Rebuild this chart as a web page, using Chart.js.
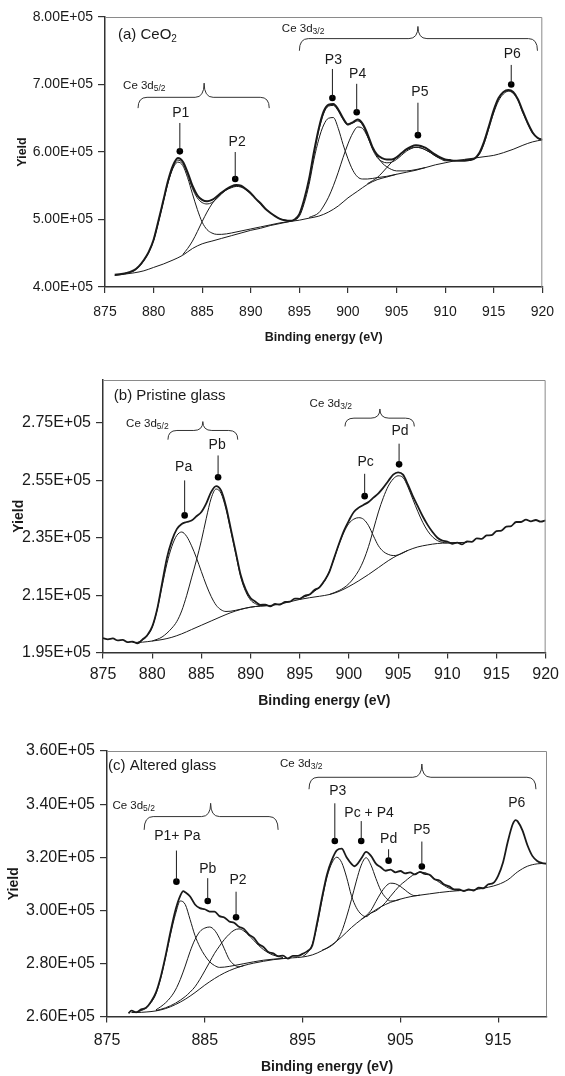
<!DOCTYPE html>
<html>
<head>
<meta charset="utf-8">
<script src="https://cdn.jsdelivr.net/npm/chart.js@4.4.0/dist/chart.umd.min.js"></script>
<style>
  body { margin: 0; background: #fff; }
  #wrap { position: relative; width: 565px; height: 1076px; }
  canvas { position: absolute; left: 0; }
</style>
</head>
<body>
<div id="wrap">
  <canvas id="chartA" width="565" height="345" style="top:0px"></canvas>
  <canvas id="chartB" width="565" height="365" style="top:345px"></canvas>
  <canvas id="chartC" width="565" height="366" style="top:710px"></canvas>
</div>
<script>
// all yields are in units of 1E+05 counts, energies in eV

// ---------- (a) CeO2 ----------
const xTicksA = [875, 880, 885, 890, 895, 900, 905, 910, 915, 920]
const yTicksA = [4, 5, 6, 7, 8]
const specA = [[876,4.18],[876.5,4.19],[877,4.20],[877.5,4.22],[878,4.25],[878.5,4.31],[879,4.40],[879.5,4.52],[880,4.70],[880.5,4.98],
  [881,5.28],[881.5,5.58],[882,5.80],[882.5,5.91],[883,5.86],[883.5,5.70],[884,5.50],[884.5,5.36],[885,5.29],[885.5,5.27],
  [886,5.29],[886.5,5.34],[887,5.40],[887.5,5.45],[888,5.49],[888.5,5.51],[889,5.50],[889.5,5.45],[890,5.39],[890.5,5.31],
  [891,5.24],[891.5,5.16],[892,5.10],[892.5,5.05],[893,5.01],[893.5,4.99],[894,4.98],[894.5,5.00],[895,5.08],[895.5,5.30],
  [896,5.60],[896.5,6.00],[897,6.35],[897.5,6.60],[898,6.70],[898.5,6.71],[899,6.63],[899.5,6.50],[900,6.41],[900.5,6.44],
  [901,6.48],[901.5,6.42],[902,6.27],[902.5,6.08],[903,5.96],[903.5,5.91],[904,5.89],[904.5,5.89],[905,5.92],[905.5,5.98],
  [906,6.04],[906.5,6.08],[907,6.10],[907.5,6.09],[908,6.06],[908.5,6.01],[909,5.96],[909.5,5.92],[910,5.89],[910.5,5.88],
  [911,5.87],[911.5,5.87],[912,5.87],[912.5,5.88],[913,5.90],[913.5,5.98],[914,6.15],[914.5,6.38],[915,6.62],[915.5,6.80],
  [916,6.89],[916.5,6.92],[917,6.89],[917.5,6.78],[918,6.60],[918.5,6.43],[919,6.29],[919.5,6.21],[920,6.18]]
const envA = [[880,4.69],[880.5,4.97],[881,5.27],[881.5,5.56],[882,5.78],[882.5,5.88],[883,5.83],[883.5,5.67],[884,5.46],[884.5,5.32],
  [885,5.25],[885.5,5.23],[886,5.25],[886.5,5.31],[887,5.38],[887.5,5.44],[888,5.48],[888.5,5.50],[889,5.49],[889.5,5.45],[890,5.39],
  [893,null],
  [896,5.58],[896.5,5.97],[897,6.32],[897.5,6.57],[898,6.68],[898.5,6.69],[899,6.61],[899.5,6.48],[900,6.40],[900.5,6.43],
  [901,6.46],[901.5,6.40],[902,6.24],[902.5,6.05],[903,5.92],[903.5,5.86],[904,5.84],[904.5,5.85],[905,5.89],[905.5,5.95],
  [906,6.01],[906.5,6.05],[907,6.07],[907.5,6.06],[908,6.03],[908.5,5.99],[909,5.94],[909.5,5.91],[910,5.88]]
const bgA = [[876,4.17],[877,4.19],[878,4.21],[879,4.24],[880,4.29],[881,4.34],[882,4.40],[883,4.47],[884,4.57],[885,4.64],
  [886,4.68],[887,4.72],[888,4.76],[889,4.80],[890,4.84],[891,4.87],[892,4.91],[893,4.94],[894,4.97],[895,4.99],
  [896,5.02],[897,5.05],[898,5.11],[899,5.20],[900,5.32],[901,5.42],[902,5.52],[903,5.59],[904,5.63],[905,5.67],
  [906,5.70],[907,5.73],[908,5.77],[909,5.81],[910,5.84],[911,5.87],[912,5.89],[913,5.91],[914,5.93],[915,5.95],
  [916,5.99],[917,6.04],[918,6.10],[919,6.15],[920,6.18]]
const p1A = [[877,4.20],[878,4.24],[878.5,4.30],[879,4.39],[879.5,4.51],[880,4.69],[880.5,4.96],[881,5.26],[881.5,5.55],[882,5.76],
  [882.5,5.85],[883,5.80],[883.5,5.62],[884,5.38],[884.5,5.15],[885,4.96],[885.5,4.85],[886,4.80],[886.5,4.78],[887,4.78],
  [888,4.80],[889,4.83],[890,4.86],[891,4.89],[892,4.92],[893,4.95],[894,4.97]]
const p2A = [[883,4.48],[883.5,4.57],[884,4.68],[884.5,4.82],[885,4.97],[885.5,5.11],[886,5.23],[886.5,5.32],[887,5.39],[887.5,5.44],
  [888,5.47],[888.5,5.49],[889,5.48],[889.5,5.44],[890,5.38],[890.5,5.31],[891,5.23],[891.5,5.16],[892,5.10],[892.5,5.05],
  [893,5.01],[893.5,4.99],[894,4.98]]
const p3A = [[894,4.97],[895,5.05],[895.5,5.24],[896,5.52],[896.5,5.89],[897,6.19],[897.5,6.40],[898,6.50],[898.5,6.51],[899,6.35],
  [899.5,6.11],[900,5.90],[900.5,5.73],[901,5.63],[901.5,5.60],[902,5.60],[903,5.62],[904,5.64],[905,5.67]]
const p4A = [[896,5.03],[897,5.10],[897.5,5.20],[898,5.33],[898.5,5.50],[899,5.70],[899.5,5.92],[900,6.12],[900.5,6.28],[901,6.37],
  [901.5,6.35],[902,6.23],[902.5,6.07],[903,5.94],[903.5,5.84],[904,5.78],[904.5,5.74],[905,5.72],[906,5.72],[907,5.74],[908,5.77]]
const p5A = [[902,5.53],[903,5.62],[903.5,5.69],[904,5.77],[904.5,5.85],[905,5.92],[905.5,5.98],[906,6.03],[906.5,6.06],[907,6.07],
  [907.5,6.06],[908,6.03],[908.5,5.99],[909,5.94],[909.5,5.90],[910,5.87],[911,5.87]]
const p6A = [[912,5.89],[913,5.90],[913.5,5.96],[914,6.12],[914.5,6.35],[915,6.58],[915.5,6.76],[916,6.86],[916.5,6.90],[917,6.87],
  [917.5,6.76],[918,6.58],[918.5,6.42],[919,6.28],[919.5,6.21],[920,6.18]]
const peakNamesA = ['P1', 'P2', 'P3', 'P4', 'P5', 'P6']
const peakEnergyA = [882.7, 888.4, 898.4, 900.9, 907.2, 916.8]
const peakDotA = [6.01, 5.60, 6.80, 6.59, 6.25, 7.00]
const peakTopA = [6.43, 6.00, 7.23, 7.01, 6.73, 7.29]
const labelEnergyA = [882.8, 888.6, 898.5, 901.0, 907.4, 916.9]
const labelYieldA = [6.58, 6.15, 7.36, 7.16, 6.88, 7.45]

// ---------- (b) pristine glass ----------
const xTicksB = [875, 880, 885, 890, 895, 900, 905, 910, 915, 920]
const yTicksB = [1.95, 2.15, 2.35, 2.55, 2.75]
const specB = [[875,2.000],[875.5,1.996],[876,1.999],[876.5,1.992],[877,1.994],[877.5,1.986],[878,1.988],[878.5,1.982],[879,1.995],[879.5,2.010],
  [880,2.040],[880.5,2.100],[881,2.190],[881.5,2.280],[882,2.340],[882.5,2.380],[883,2.398],[883.5,2.405],[884,2.410],[884.5,2.425],
  [885,2.440],[885.5,2.470],[886,2.510],[886.5,2.530],[887,2.515],[887.5,2.460],[888,2.380],[888.5,2.300],[889,2.220],[889.5,2.170],
  [890,2.140],[890.5,2.127],[891,2.116],[891.5,2.117],[892,2.111],[892.5,2.119],[893,2.117],[893.5,2.126],[894,2.127],[894.5,2.138],
  [895,2.137],[895.5,2.148],[896,2.152],[896.5,2.168],[897,2.177],[897.5,2.200],[898,2.230],[898.5,2.280],[899,2.330],[899.5,2.375],
  [900,2.410],[900.5,2.440],[901,2.455],[901.5,2.465],[902,2.475],[902.5,2.490],[903,2.505],[903.5,2.525],[904,2.548],[904.5,2.570],
  [905,2.578],[905.5,2.570],[906,2.535],[906.5,2.495],[907,2.460],[907.5,2.425],[908,2.395],[908.5,2.370],[909,2.350],[909.5,2.340],
  [910,2.337],[910.5,2.329],[911,2.333],[911.5,2.327],[912,2.337],[912.5,2.336],[913,2.348],[913.5,2.346],[914,2.358],[914.5,2.359],
  [915,2.373],[915.5,2.375],[916,2.389],[916.5,2.391],[917,2.405],[917.5,2.405],[918,2.413],[918.5,2.407],[919,2.412],[919.5,2.406],[920,2.411]]
const bgB = [[878,1.985],[879,1.986],[880,1.990],[881,1.995],[882,2.003],[883,2.015],[884,2.030],[885,2.045],[886,2.060],[887,2.075],
  [888,2.089],[889,2.100],[890,2.108],[891,2.112],[892,2.114],[893,2.119],[894,2.127],[895,2.135],[896,2.141],[897,2.146],
  [898,2.152],[899,2.163],[900,2.180],[901,2.200],[902,2.222],[903,2.246],[904,2.270],[905,2.290],[906,2.306],[907,2.318],
  [908,2.325],[909,2.330],[910,2.332],[911,2.333],[912,2.334]]
const paB = [[878.5,1.985],[879,1.993],[879.5,2.008],[880,2.038],[880.5,2.098],[881,2.180],[881.5,2.260],[882,2.320],[882.5,2.358],[883,2.370],
  [883.5,2.355],[884,2.322],[884.5,2.280],[885,2.232],[885.5,2.185],[886,2.145],[886.5,2.115],[887,2.099],[887.5,2.093],[888,2.094],
  [889,2.101],[890,2.108],[891,2.112],[892,2.114]]
const pbB = [[880,1.990],[881,2.004],[882,2.035],[882.5,2.058],[883,2.095],[883.5,2.148],[884,2.210],[884.5,2.272],[885,2.340],[885.5,2.418],
  [886,2.488],[886.5,2.520],[887,2.505],[887.5,2.450],[888,2.372],[888.5,2.292],[889,2.213],[889.5,2.163],[890,2.133],[890.5,2.120],
  [891,2.114],[892,2.114]]
const pcB = [[895,2.138],[896,2.152],[897,2.178],[897.5,2.198],[898,2.232],[898.5,2.278],[899,2.328],[899.5,2.370],[900,2.400],[900.5,2.415],
  [901,2.420],[901.5,2.414],[902,2.392],[902.5,2.356],[903,2.322],[903.5,2.302],[904,2.292],[904.5,2.288],[905,2.290],[906,2.306]]
const pdB = [[898,2.152],[899,2.166],[899.5,2.176],[900,2.190],[900.5,2.210],[901,2.236],[901.5,2.272],[902,2.320],[902.5,2.380],[903,2.440],
  [903.5,2.490],[904,2.530],[904.5,2.555],[905,2.566],[905.5,2.560],[906,2.527],[906.5,2.484],[907,2.442],[907.5,2.404],[908,2.374],
  [908.5,2.353],[909,2.340],[909.5,2.334],[910,2.332],[911,2.333]]
const peakNamesB = ['Pa', 'Pb', 'Pc', 'Pd']
const peakEnergyB = [883.3, 886.7, 901.6, 905.1]
const peakDotB = [2.428, 2.561, 2.495, 2.606]
const peakTopB = [2.550, 2.637, 2.573, 2.678]
const labelEnergyB = [883.2, 886.6, 901.7, 905.2]
const labelYieldB = [2.596, 2.672, 2.614, 2.721]

// ---------- (c) altered glass ----------
const xTicksC = [875, 885, 895, 905, 915]
const yTicksC = [2.6, 2.8, 3.0, 3.2, 3.4, 3.6]
const specC = [[877.2,2.612],[877.5,2.622],[878,2.616],[878.5,2.627],[879,2.633],[879.5,2.656],[880,2.690],[880.5,2.750],[881,2.830],[881.5,2.920],
  [882,3.000],[882.5,3.055],[882.8,3.072],[883,3.068],[883.5,3.052],[884,3.022],[884.5,3.008],[885,3.004],[885.5,2.995],[886,2.995],
  [886.5,2.978],[887,2.973],[887.5,2.958],[888,2.953],[888.5,2.938],[889,2.930],[889.5,2.909],[890,2.897],[890.5,2.873],[891,2.862],
  [891.5,2.843],[892,2.838],[892.5,2.827],[893,2.829],[893.5,2.818],[894,2.828],[894.5,2.828],[895,2.836],[895.5,2.846],[896,2.868],
  [896.5,2.955],[897,3.050],[897.5,3.135],[898,3.190],[898.5,3.226],[899,3.232],[899.5,3.200],[900,3.175],[900.3,3.166],[900.5,3.170],
  [901,3.195],[901.5,3.220],[902,3.205],[902.5,3.176],[903,3.162],[903.5,3.149],[904,3.153],[904.5,3.143],[905,3.148],[905.5,3.139],
  [906,3.143],[906.5,3.135],[907,3.145],[907.5,3.137],[908,3.134],[908.5,3.117],[909,3.112],[909.5,3.097],[910,3.090],[910.5,3.079],
  [911,3.079],[911.5,3.072],[912,3.079],[912.5,3.074],[913,3.085],[913.5,3.083],[914,3.098],[914.5,3.103],[915,3.130],[915.5,3.180],
  [916,3.260],[916.5,3.325],[916.8,3.340],[917,3.335],[917.5,3.300],[918,3.245],[918.5,3.205],[919,3.186],[919.5,3.178],[920,3.175]]
const bgC = [[877.5,2.615],[878,2.615],[879,2.617],[880,2.621],[881,2.630],[882,2.645],[883,2.665],[884,2.690],[885,2.718],[886,2.743],
  [887,2.764],[888,2.780],[889,2.792],[890,2.801],[891,2.808],[892,2.814],[893,2.818],[894,2.821],[895,2.824],[896,2.832],
  [897,2.848],[898,2.870],[899,2.900],[900,2.935],[901,2.965],[902,2.990],[903,3.013],[904,3.030],[905,3.042],[906,3.051],
  [907,3.057],[908,3.062],[909,3.067],[910,3.071],[911,3.074],[912,3.076],[913,3.080],[914,3.087],[915,3.097],[916,3.115],
  [917,3.145],[918,3.166],[919,3.175],[920,3.177]]
const p1C = [[878,2.615],[879,2.632],[879.5,2.652],[880,2.685],[880.5,2.745],[881,2.825],[881.5,2.910],[882,2.985],[882.5,3.035],[883,3.022],
  [883.5,2.965],[884,2.905],[884.5,2.862],[885,2.830],[885.5,2.806],[886,2.792],[886.5,2.785],[887,2.786],[888,2.792],[889,2.799],
  [890,2.806],[891,2.812],[892,2.816],[893,2.819]]
const pbC = [[880,2.625],[880.5,2.637],[881,2.652],[881.5,2.672],[882,2.700],[882.5,2.740],[883,2.790],[883.5,2.845],[884,2.890],[884.5,2.920],
  [885,2.933],[885.5,2.937],[886,2.925],[886.5,2.895],[887,2.855],[887.5,2.815],[888,2.795],[888.5,2.787],[889,2.792]]
const p2C = [[880,2.622],[881,2.633],[882,2.650],[883,2.675],[883.5,2.692],[884,2.712],[884.5,2.740],[885,2.772],[885.5,2.805],[886,2.838],
  [886.5,2.865],[887,2.890],[887.5,2.910],[888,2.925],[888.5,2.930],[889,2.922],[889.5,2.906],[890,2.887],[890.5,2.868],[891,2.852],
  [891.5,2.840],[892,2.831],[893,2.822]]
const p3C = [[895,2.826],[895.5,2.840],[896,2.872],[896.5,2.945],[897,3.040],[897.5,3.125],[898,3.178],[898.5,3.200],[899,3.180],[899.5,3.125],
  [900,3.055],[900.5,3.010],[901,2.985],[901.5,2.976],[902,2.990]]
const p4C = [[897,2.850],[897.5,2.857],[898,2.868],[898.5,2.885],[899,2.920],[899.5,2.975],[900,3.040],[900.5,3.110],[901,3.170],[901.5,3.198],
  [902,3.170],[902.5,3.120],[903,3.075],[903.5,3.048],[904,3.035],[904.5,3.036],[905,3.042]]
const pdC = [[901,2.966],[901.5,2.980],[902,3.000],[902.5,3.033],[903,3.065],[903.5,3.090],[904,3.102],[904.5,3.100],[905,3.090],[905.5,3.076],
  [906,3.062],[906.5,3.055],[907,3.057]]
const p5C = [[902,2.990],[902.5,2.998],[903,3.012],[903.5,3.030],[904,3.053],[904.5,3.075],[905,3.095],[905.5,3.110],[906,3.125],[906.5,3.137],
  [907,3.143],[907.5,3.142],[908,3.132],[908.5,3.118],[909,3.105],[909.5,3.093],[910,3.083],[910.5,3.077],[911,3.074]]
const peakNamesC = ['P1+ Pa', 'Pb', 'P2', 'P3', 'Pc + P4', 'Pd', 'P5']
const peakEnergyC = [882.1, 885.3, 888.2, 898.3, 901.0, 903.8, 907.2]
const peakDotC = [3.108, 3.035, 2.974, 3.261, 3.261, 3.187, 3.165]
const peakTopC = [3.225, 3.121, 3.070, 3.403, 3.336, 3.230, 3.259]
const labelEnergyC = [882.2, 885.3, 888.4, 898.6, 901.8, 903.8, 907.2]
const labelYieldC = [3.280, 3.155, 3.112, 3.449, 3.365, 3.269, 3.303]

const FONT = '"Liberation Sans", Arial, sans-serif'
const INK = '#1a1a1a'

const toXY = pairs => pairs.map(([x, y]) => ({ x, y }))

function lineSet(pairs, width) {
    return {
        data: toXY(pairs),
        borderColor: INK,
        borderWidth: width,
        pointRadius: 0,
        fill: false,
        spanGaps: false,
        cubicInterpolationMode: 'monotone'
    }
}

function peakSets(energy, dot, top) {
    const stems = []
    energy.forEach((e, i) => {
        stems.push({ x: e, y: dot[i] }, { x: e, y: top[i] }, { x: e, y: null })
    })
    return [
        { data: stems, borderColor: INK, borderWidth: 1, pointRadius: 0, spanGaps: false },
        { data: energy.map((e, i) => ({ x: e, y: dot[i] })), showLine: false,
          pointRadius: 3.3, pointBackgroundColor: '#000', pointBorderWidth: 0 }
    ]
}

function drawLabel(ctx, x, y, main, sub, size, subSize, drop) {
    ctx.textAlign = 'left'
    ctx.textBaseline = 'middle'
    ctx.font = size + 'px ' + FONT
    ctx.fillText(main, x, y)
    if (sub) {
        const w = ctx.measureText(main).width
        ctx.font = subSize + 'px ' + FONT
        ctx.fillText(sub, x + w, y + drop)
    }
}

function drawBrace(ctx, x1, xm, x2, yEnd, yLine, yCusp) {
    const r = 9
    ctx.beginPath()
    ctx.moveTo(x1, yEnd)
    ctx.quadraticCurveTo(x1, yLine, x1 + r, yLine)
    ctx.lineTo(xm - r, yLine)
    ctx.quadraticCurveTo(xm, yLine, xm, yCusp)
    ctx.quadraticCurveTo(xm, yLine, xm + r, yLine)
    ctx.lineTo(x2 - r, yLine)
    ctx.quadraticCurveTo(x2, yLine, x2, yEnd)
    ctx.stroke()
}

function makePanel(id, p) {
    const decor = {
        id: 'decor',
        afterDatasetsDraw(chart) {
            const { ctx, chartArea: a } = chart
            ctx.save()
            ctx.strokeStyle = '#8a8a8a'
            ctx.lineWidth = 1
            ctx.beginPath()
            ctx.moveTo(a.left, a.top + 0.5)
            ctx.lineTo(a.right - 0.5, a.top + 0.5)
            ctx.lineTo(a.right - 0.5, a.bottom)
            ctx.stroke()
            ctx.restore()
        },
        afterDraw(chart) {
            const ctx = chart.ctx
            const sx = v => chart.scales.x.getPixelForValue(v)
            const sy = v => chart.scales.y.getPixelForValue(v)
            ctx.save()
            ctx.fillStyle = INK
            ctx.strokeStyle = '#333'
            ctx.lineWidth = 1
            drawLabel(ctx, sx(p.title.e), sy(p.title.v), p.title.text, p.title.sub, 15, 10, 4)
            p.groups.forEach(g => {
                drawLabel(ctx, sx(g.e), sy(g.v), 'Ce 3d', g.sub, 11.5, 8.5, 3)
                drawBrace(ctx, sx(g.from), sx(g.mid), sx(g.to), sy(g.end), sy(g.line), sy(g.cusp))
            })
            ctx.font = '14px ' + FONT
            ctx.textAlign = 'center'
            ctx.textBaseline = 'middle'
            p.labels.names.forEach((n, i) => {
                ctx.fillText(n, sx(p.labels.energy[i]), sy(p.labels.yield[i]))
            })
            ctx.restore()
        }
    }

    const datasets = p.lines.map(l => lineSet(l[0], l[1])).concat(peakSets(p.peaks.energy, p.peaks.dot, p.peaks.top))

    return new Chart(document.getElementById(id), {
        type: 'line',
        data: { datasets },
        options: {
            responsive: false,
            animation: false,
            events: [],
            layout: { padding: { top: p.padTop, right: p.padRight, left: 0, bottom: 0 } },
            plugins: { legend: { display: false }, tooltip: { enabled: false } },
            scales: {
                x: {
                    type: 'linear',
                    min: 875,
                    max: 920,
                    afterBuildTicks: s => { s.ticks = p.xTicks.map(v => ({ value: v })) },
                    afterFit: s => { s.height = p.xHeight },
                    border: { display: true, color: '#333', width: 1.5 },
                    grid: { drawOnChartArea: false, drawTicks: true, tickLength: 6, color: '#333', lineWidth: 1.2 },
                    ticks: { color: INK, font: { family: FONT, size: p.tickSize }, padding: p.xPad, maxRotation: 0 },
                    title: { display: true, text: 'Binding energy (eV)', color: INK,
                             font: { family: FONT, size: p.titleSize, weight: 'bold' }, padding: { top: p.xTitlePad, bottom: 0 } }
                },
                y: {
                    min: p.yMin,
                    max: p.yMax,
                    afterBuildTicks: s => { s.ticks = p.yTicks.map(v => ({ value: v })) },
                    afterFit: s => { s.width = p.left },
                    border: { display: true, color: '#333', width: 1.5 },
                    grid: { drawOnChartArea: false, drawTicks: true, tickLength: 7, color: '#333', lineWidth: 1.2 },
                    ticks: { color: INK, font: { family: FONT, size: p.tickSize }, padding: 5,
                             callback: v => v.toFixed(2) + 'E+05' },
                    title: { display: true, text: 'Yield', color: INK,
                             font: { family: FONT, size: p.titleSize, weight: 'bold' }, padding: { top: p.yTitlePad, bottom: 0 } }
                }
            }
        },
        plugins: [decor]
    })
}

makePanel('chartA', {
    padTop: 17, padRight: 22, left: 105, xHeight: 58, xPad: 11, xTitlePad: 2,
    tickSize: 14, titleSize: 12.5, yTitlePad: 15,
    yMin: 4, yMax: 8, xTicks: xTicksA, yTicks: yTicksA,
    lines: [[specA, 2], [envA, 1], [bgA, 1], [p1A, 1], [p2A, 1], [p3A, 1], [p4A, 1], [p5A, 1], [p6A, 1]],
    peaks: { energy: peakEnergyA, dot: peakDotA, top: peakTopA },
    labels: { names: peakNamesA, energy: labelEnergyA, yield: labelYieldA },
    title: { text: '(a) CeO', sub: '2', e: 876.34, v: 7.73 },
    groups: [
        { sub: '5/2', e: 876.86, v: 6.98, from: 878.4, mid: 885.2, to: 891.9, end: 6.65, line: 6.81, cusp: 7.02 },
        { sub: '3/2', e: 893.2, v: 7.82, from: 895.0, mid: 907.2, to: 919.5, end: 7.50, line: 7.68, cusp: 7.86 }
    ]
})

makePanel('chartB', {
    padTop: 35, padRight: 14, left: 103, xHeight: 57.5, xPad: 6, xTitlePad: 4.6,
    tickSize: 16, titleSize: 14, yTitlePad: 10.6,
    yMin: 1.95, yMax: 2.9, xTicks: xTicksB, yTicks: yTicksB,
    lines: [[specB, 1.8], [bgB, 1], [paB, 1], [pbB, 1], [pcB, 1], [pdB, 1]],
    peaks: { energy: peakEnergyB, dot: peakDotB, top: peakTopB },
    labels: { names: peakNamesB, energy: labelEnergyB, yield: labelYieldB },
    title: { text: '(b) Pristine glass', sub: '', e: 876.1, v: 2.846 },
    groups: [
        { sub: '5/2', e: 877.35, v: 2.747, from: 881.6, mid: 885.15, to: 888.7, end: 2.692, line: 2.724, cusp: 2.755 },
        { sub: '3/2', e: 896.0, v: 2.817, from: 899.6, mid: 903.15, to: 906.65, end: 2.738, line: 2.767, cusp: 2.799 }
    ]
})

makePanel('chartC', {
    padTop: 41, padRight: 18, left: 107, xHeight: 59.5, xPad: 8.5, xTitlePad: 0,
    tickSize: 16, titleSize: 14, yTitlePad: 5.6,
    yMin: 2.6, yMax: 3.6, xTicks: xTicksC, yTicks: yTicksC,
    lines: [[specC, 1.8], [bgC, 1], [p1C, 1], [pbC, 1], [p2C, 1], [p3C, 1], [p4C, 1], [pdC, 1], [p5C, 1]],
    peaks: { energy: peakEnergyC, dot: peakDotC, top: peakTopC },
    labels: { names: peakNamesC.concat(['P6']), energy: labelEnergyC.concat([916.9]), yield: labelYieldC.concat([3.403]) },
    title: { text: '(c) Altered glass', sub: '', e: 875.1, v: 3.544 },
    groups: [
        { sub: '5/2', e: 875.55, v: 3.394, from: 878.8, mid: 885.6, to: 892.5, end: 3.303, line: 3.353, cusp: 3.403 },
        { sub: '3/2', e: 892.7, v: 3.551, from: 895.66, mid: 907.2, to: 918.87, end: 3.456, line: 3.501, cusp: 3.551 }
    ]
})
</script>
</body>
</html>
